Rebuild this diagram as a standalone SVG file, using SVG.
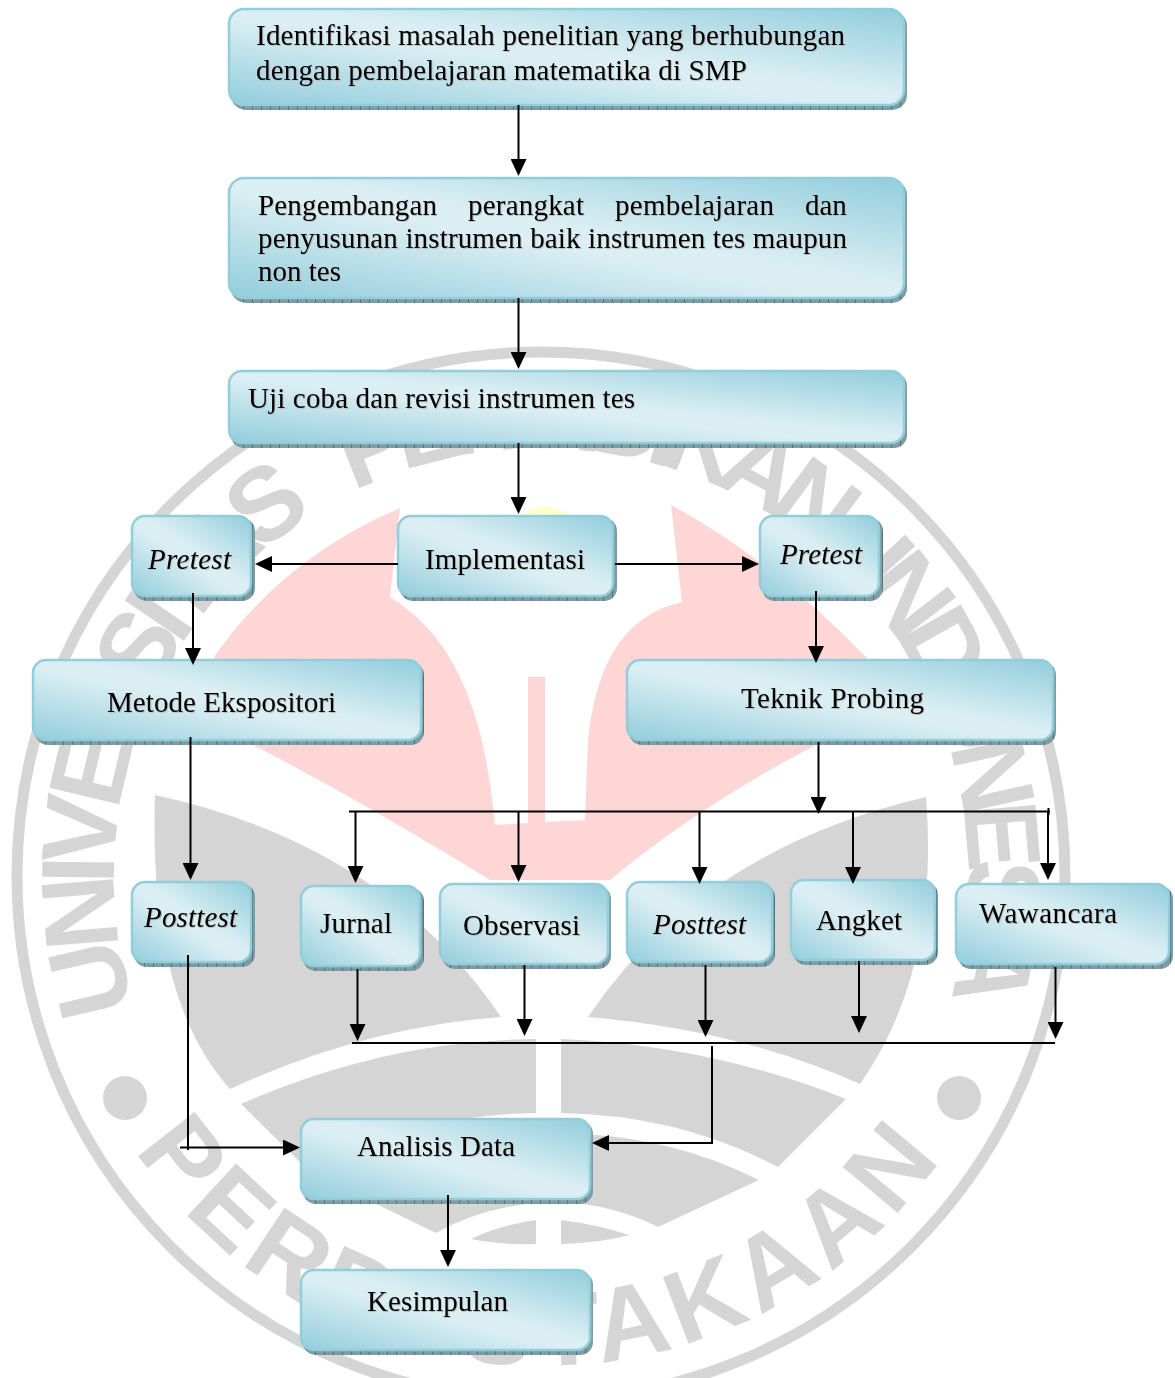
<svg xmlns="http://www.w3.org/2000/svg" xmlns:xlink="http://www.w3.org/1999/xlink" width="1175" height="1378" viewBox="0 0 1175 1378">
<style>
text{font-family:"Liberation Serif","Times New Roman",serif;font-size:29px;fill:#000}
.t{filter:drop-shadow(1px 1px .6px #bdbdbd)}
.i{font-style:italic}
.wm{font-family:"Liberation Sans",Arial,sans-serif;font-weight:bold;font-size:104px;fill:#d6d5d5}
.g{fill:#d6d5d5}
.b{fill:url(#grad);stroke:#92cddc;stroke-width:2.5}
.s{fill:url(#hatch)}
.c line,.c path{fill:none;stroke:#000;stroke-width:2}
.a{marker-end:url(#arr)}
</style>
<defs>
<linearGradient id="grad" x1="1" y1="0" x2="0" y2="1">
<stop offset="0" stop-color="#92cddc"/><stop offset=".45" stop-color="#daeef3"/><stop offset=".55" stop-color="#daeef3"/><stop offset="1" stop-color="#92cddc"/>
</linearGradient>
<pattern id="hatch" width="9" height="9" patternUnits="userSpaceOnUse">
<rect width="9" height="9" fill="#7d9ca4"/><rect width="1" height="9" fill="#4d7580"/>
</pattern>
<marker id="arr" markerUnits="userSpaceOnUse" markerWidth="18" markerHeight="16" refX="9" refY="8" orient="auto">
<path d="M0,0L17,8L0,16z" fill="#000"/>
</marker>
<path id="arcTop" d="M140,1022A427,427 0 1 1 942,1022"/>
<path id="arcBot" d="M135,1150A490,490 0 0 0 947,1150"/>
</defs>
<rect width="1175" height="1378" fill="#fff"/>
<g id="watermark">
<circle cx="541" cy="876" r="524" fill="none" stroke="#d6d5d5" stroke-width="11"/>
<circle cx="125" cy="1098" r="22" class="g"/>
<circle cx="959" cy="1098" r="22" class="g"/>
<text class="wm"><textPath xlink:href="#arcTop" href="#arcTop" startOffset="15" textLength="568">UNIVERSITAS</textPath></text>
<text class="wm"><textPath xlink:href="#arcTop" href="#arcTop" startOffset="626" textLength="504">PENDIDIKAN</textPath></text>
<text class="wm"><textPath xlink:href="#arcTop" href="#arcTop" startOffset="1162" textLength="454">INDONESIA</textPath></text>
<text class="wm"><textPath xlink:href="#arcBot" href="#arcBot" startOffset="0" textLength="945">PERPUSTAKAAN</textPath></text>
<circle cx="545" cy="545" r="38" fill="#ffffcc"/>
<path fill="#ffd6d6" d="M400,508Q283,558 214,657L253,745Q358,799 490,880L610,880Q700,805 816,745L880,680L869,660Q770,558 671,505L682,602Q600,620 588,740L585,820L545,822L545,677L528,677L528,823L495,825C485,720 460,640 390,597Z"/>
<path class="g" d="M155,795Q385,845 501,1017Q364,1027 230,1089Q148,998 155,795Z"/>
<path class="g" d="M926,797Q700,850 588,1017Q740,1030 860,1084Q940,970 926,797Z"/>
<path class="g" d="M241,1104Q385,1040 536,1039L536,1113Q410,1115 308,1170Z"/>
<path class="g" d="M561,1039Q710,1045 846,1099L778,1167Q680,1115 561,1113Z"/>
<path class="g" d="M327,1180Q420,1130 536,1133L536,1203Q480,1208 436,1233Z"/>
<path class="g" d="M561,1133Q670,1135 759,1180L658,1227Q615,1205 561,1202Z"/>
<path class="g" d="M471,1239Q500,1225 536,1220L536,1244Q500,1245 471,1239Z"/>
<path class="g" d="M561,1220Q600,1225 629,1235Q600,1243 561,1244Z"/>
</g>
<g id="n1"><rect class="s" x="231" y="11" width="676" height="99" rx="15"/><rect class="b" x="229" y="9" width="675" height="96" rx="15"/>
<text class="t"><tspan x="256" y="45" textLength="589">Identifikasi masalah penelitian yang berhubungan</tspan><tspan x="256" y="80" textLength="491">dengan pembelajaran matematika di SMP</tspan></text></g>
<g id="n2"><rect class="s" x="231" y="180" width="676" height="123" rx="15"/><rect class="b" x="229" y="178" width="675" height="120" rx="15"/>
<text class="t"><tspan x="258" y="215" textLength="179">Pengembangan</tspan><tspan x="468" y="215" textLength="116">perangkat</tspan><tspan x="615" y="215" textLength="159">pembelajaran</tspan><tspan x="805" y="215">dan</tspan><tspan x="258" y="248" textLength="589">penyusunan instrumen baik instrumen tes maupun</tspan><tspan x="258" y="281">non tes</tspan></text></g>
<g id="n3"><rect class="s" x="231" y="373" width="676" height="75" rx="13"/><rect class="b" x="229" y="371" width="675" height="72" rx="13"/>
<text class="t" x="248" y="408" textLength="387">Uji coba dan revisi instrumen tes</text></g>
<g id="n4"><rect class="s" x="134" y="518" width="121" height="83" rx="13"/><rect class="b" x="132" y="516" width="119" height="80" rx="13"/>
<text class="t i" x="148" y="569" textLength="83">Pretest</text></g>
<g id="n5"><rect class="s" x="400" y="518" width="217" height="83" rx="13"/><rect class="b" x="398" y="516" width="215" height="80" rx="13"/>
<text class="t" x="425" y="569" textLength="160">Implementasi</text></g>
<g id="n6"><rect class="s" x="762" y="518" width="121" height="83" rx="13"/><rect class="b" x="760" y="516" width="119" height="80" rx="13"/>
<text class="t i" x="780" y="564" textLength="82">Pretest</text></g>
<g id="n7"><rect class="s" x="35" y="662" width="389" height="83" rx="13"/><rect class="b" x="33" y="660" width="388" height="80" rx="13"/>
<text class="t" x="107" y="712" textLength="229">Metode Ekspositori</text></g>
<g id="n8"><rect class="s" x="629" y="662" width="427" height="83" rx="13"/><rect class="b" x="627" y="660" width="426" height="80" rx="13"/>
<text class="t" x="741" y="708" textLength="183">Teknik Probing</text></g>
<g id="n9"><rect class="s" x="134" y="884" width="121" height="83" rx="13"/><rect class="b" x="132" y="882" width="119" height="80" rx="13"/>
<text class="t i" x="144" y="927" textLength="93">Posttest</text></g>
<g id="n10"><rect class="s" x="303" y="888" width="121" height="83" rx="13"/><rect class="b" x="301" y="886" width="119" height="80" rx="13"/>
<text class="t" x="320" y="933" textLength="72">Jurnal</text></g>
<g id="n11"><rect class="s" x="442" y="886" width="169" height="83" rx="13"/><rect class="b" x="440" y="884" width="168" height="80" rx="13"/>
<text class="t" x="463" y="935" textLength="117">Observasi</text></g>
<g id="n12"><rect class="s" x="629" y="884" width="146" height="83" rx="13"/><rect class="b" x="627" y="882" width="145" height="80" rx="13"/>
<text class="t i" x="653" y="934" textLength="93">Posttest</text></g>
<g id="n13"><rect class="s" x="793" y="882" width="145" height="83" rx="13"/><rect class="b" x="791" y="880" width="144" height="80" rx="13"/>
<text class="t" x="816" y="930" textLength="86">Angket</text></g>
<g id="n14"><rect class="s" x="958" y="886" width="215" height="83" rx="13"/><rect class="b" x="956" y="884" width="213" height="80" rx="13"/>
<text class="t" x="979" y="923" textLength="138">Wawancara</text></g>
<g id="n15"><rect class="s" x="303" y="1121" width="290" height="83" rx="13"/><rect class="b" x="301" y="1119" width="289" height="80" rx="13"/>
<text class="t" x="357" y="1156" textLength="158">Analisis Data</text></g>
<g id="n16"><rect class="s" x="303" y="1272" width="290" height="83" rx="13"/><rect class="b" x="301" y="1270" width="289" height="80" rx="13"/>
<text class="t" x="367" y="1311" textLength="141">Kesimpulan</text></g>
<g id="connectors" class="c">
<line class="a" x1="518.5" y1="105" x2="518.5" y2="168"/>
<line class="a" x1="518.5" y1="298" x2="518.5" y2="361"/>
<line class="a" x1="518.5" y1="443" x2="518.5" y2="506"/>
<line class="a" x1="398" y1="564" x2="263" y2="564"/>
<line class="a" x1="615" y1="564" x2="751" y2="564"/>
<line class="a" x1="193" y1="593" x2="193" y2="657"/>
<line class="a" x1="816" y1="591" x2="816" y2="655"/>
<line class="a" x1="190.5" y1="737" x2="190.5" y2="872"/>
<line class="a" x1="818.5" y1="742" x2="818.5" y2="806"/>
<line x1="349" y1="811.5" x2="1050" y2="811.5"/>
<line x1="1048.5" y1="808" x2="1048.5" y2="815"/>
<line class="a" x1="355.5" y1="811" x2="355.5" y2="875"/>
<line class="a" x1="518.5" y1="811" x2="518.5" y2="874"/>
<line class="a" x1="699.5" y1="811" x2="699.5" y2="876"/>
<line class="a" x1="853" y1="811" x2="853" y2="876"/>
<line class="a" x1="1048" y1="811" x2="1048" y2="872"/>
<line x1="188" y1="955" x2="188" y2="1150"/>
<line class="a" x1="180" y1="1147.5" x2="292" y2="1147.5"/>
<line class="a" x1="357.5" y1="969" x2="357.5" y2="1033"/>
<line class="a" x1="524.5" y1="965" x2="524.5" y2="1028"/>
<line class="a" x1="705.5" y1="965" x2="705.5" y2="1029"/>
<line class="a" x1="859" y1="961" x2="859" y2="1025"/>
<line class="a" x1="1055.5" y1="967" x2="1055.5" y2="1031"/>
<line x1="352" y1="1043" x2="1055" y2="1043"/>
<path class="a" d="M712,1046V1143H600"/>
<line class="a" x1="448" y1="1195" x2="448" y2="1259"/>
</g>
</svg>
